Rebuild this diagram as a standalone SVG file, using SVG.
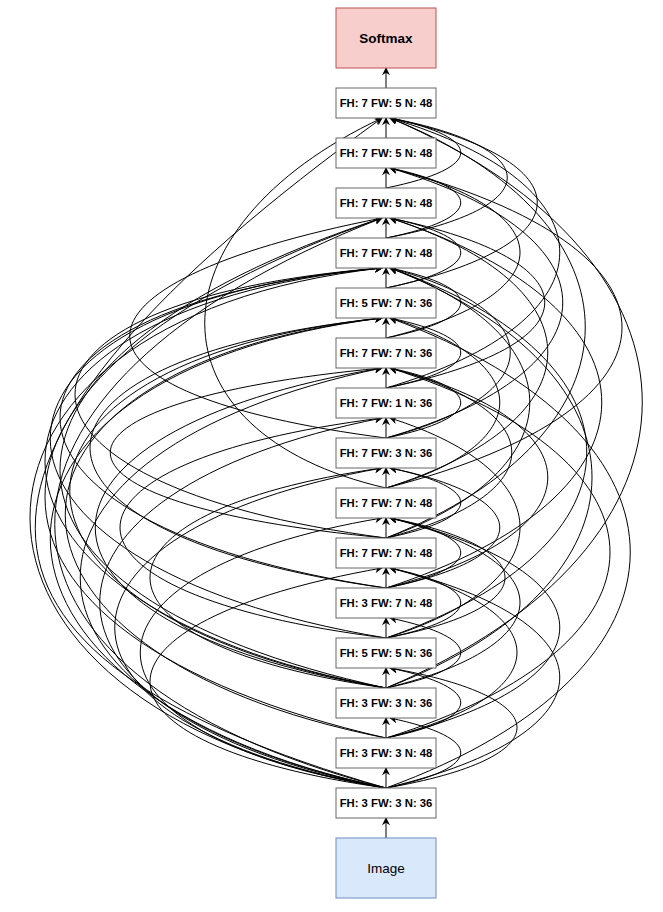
<svg xmlns="http://www.w3.org/2000/svg" width="663" height="912" viewBox="0 0 663 912">
<style>
.n rect{fill:#ffffff;stroke:#666666;stroke-width:1}
.n text{font-family:"Liberation Sans",Arial,sans-serif;font-size:11.3px;font-weight:bold;fill:#000;text-anchor:middle}
#connectors path{fill:none;stroke:#000;stroke-width:1;marker-end:url(#a)}
.big{font-family:"Liberation Sans",Arial,sans-serif;font-size:13.5px;text-anchor:middle;fill:#000}
</style>
<defs>
<marker id="a" viewBox="0 0 10 10" refX="9" refY="5" markerWidth="8" markerHeight="8" markerUnits="userSpaceOnUse" orient="auto"><path d="M0,0 L10,5 L0,10 L3,5 z" fill="#000"/></marker>
</defs>
<rect width="663" height="912" fill="#ffffff"/>
<g id="connectors">
<path d="M386,838 L386,818"/>
<path d="M386,788 L386,768"/>
<path d="M386,738 L386,718"/>
<path d="M386,688 L386,668"/>
<path d="M386,638 L386,618"/>
<path d="M386,588 L386,568"/>
<path d="M386,538 L386,518"/>
<path d="M386,488 L386,468"/>
<path d="M386,438 L386,418"/>
<path d="M386,388 L386,368"/>
<path d="M386,338 L386,318"/>
<path d="M386,288 L386,268"/>
<path d="M386,238 L386,218"/>
<path d="M386,188 L386,168"/>
<path d="M386,138 L386,118"/>
<path d="M386,88 L386,68"/>
<!-- right short loops -->
<path d="M386,188 C485,168 485,138 390,118"/>
<path d="M386,238 C485,218 485,188 390,168"/>
<path d="M386,288 C485,268 485,238 390,218"/>
<path d="M386,338 C485,318 485,288 390,268"/>
<path d="M386,388 C485,368 485,338 390,318"/>
<path d="M386,438 C485,418 485,388 390,368"/>
<path d="M386,538 C485,518 485,488 390,468"/>
<path d="M386,588 C485,568 485,538 390,518"/>
<path d="M386,638 C485,618 485,588 390,568"/>
<path d="M386,688 C485,668 485,638 390,618"/>
<path d="M386,738 C485,718 485,688 390,668"/>
<path d="M386,788 C485,768 485,738 390,718"/>
<!-- right longer -->
<path d="M386,238 C547,208 547,148 390,118"/>
<path d="M386,288 C587,245 587,161 390,118"/>
<path d="M386,338 C564,295 564,211 390,168"/>
<path d="M386,388 C597,345 597,261 390,218"/>
<path d="M386,438 C621,370 621,236 390,168"/>
<path d="M386,438 C551,395 551,311 390,268"/>
<path d="M386,488 C601,420 601,286 390,218"/>
<path d="M386,488 C700,408 700,248 390,168"/>
<path d="M386,538 C577,470 577,336 390,268"/>
<path d="M386,538 C553,495 553,411 390,368"/>
<path d="M386,588 C673,495 673,311 390,218"/>
<path d="M386,588 C601,533 601,423 390,368"/>
<path d="M386,638 C653,545 653,361 390,268"/>
<path d="M386,638 C564,583 564,473 390,418"/>
<path d="M386,688 C727,545 727,261 390,118"/>
<path d="M386,688 C660,583 660,373 390,268"/>
<path d="M386,688 C564,645 564,561 390,518"/>
<path d="M386,738 C560,695 560,611 390,568"/>
<path d="M386,738 C684,645 684,461 390,368"/>
<path d="M386,788 C560,758 560,698 390,668"/>
<path d="M386,788 C711,670 711,436 390,318"/>
<path d="M386,788 C617,733 617,623 390,568"/>
<path d="M386,588 C537,558 537,498 390,468"/>
<path d="M386,638 C544,608 544,548 390,518"/>
<path d="M386,538 C651,433 651,223 390,118"/>
<path d="M386,388 C617,320 617,186 390,118"/>
<path d="M386,738 C617,683 617,573 390,518"/>
<path d="M386,488 C537,445 537,361 390,318"/>
<!-- left -->
<path d="M386,788 C-81,654 -81,453 382,118"/>
<path d="M386,488 C145,433 145,229 382,118"/>
<path d="M386,788 C-55,674 -55,389 382,218"/>
<path d="M386,688 C-48,594 -48,359 382,218"/>
<path d="M386,738 C-68,634 -68,374 382,218"/>
<path d="M386,788 C-88,710 -88,320 382,268"/>
<path d="M386,688 C-68,604 -68,310 382,268"/>
<path d="M386,638 C-61,564 -61,305 382,268"/>
<path d="M386,588 C-48,524 -48,306 382,268"/>
<path d="M386,538 C-28,484 -28,300 382,268"/>
<path d="M386,788 C-61,694 -61,374 382,318"/>
<path d="M386,688 C-35,614 -35,362 382,318"/>
<path d="M386,588 C-8,534 -8,359 382,318"/>
<path d="M386,788 C-21,704 -21,452 382,368"/>
<path d="M386,688 C-1,624 -1,432 382,368"/>
<path d="M386,788 C5,714 5,492 382,418"/>
<path d="M386,638 C32,594 32,462 382,418"/>
<path d="M386,788 C25,724 25,532 382,468"/>
<path d="M386,688 C72,644 72,512 382,468"/>
<path d="M386,788 C59,734 59,572 382,518"/>
<path d="M386,738 C-41,654 -41,368 382,318"/>
<path d="M386,788 C72,744 72,623 382,568"/>
<path d="M386,538 C19,504 19,402 382,368"/>
<path d="M386,438 C45,394 45,284 382,218"/>
</g>
<g id="softmax"><rect x="336" y="8" width="100" height="60" fill="#f8cecc" stroke="#b85450"/><text class="big" x="386" y="43" font-weight="bold">Softmax</text></g>
<g id="n0" class="n"><rect x="336" y="88" width="100" height="30"/><text x="386" y="107">FH: 7 FW: 5 N: 48</text></g>
<g id="n1" class="n"><rect x="336" y="138" width="100" height="30"/><text x="386" y="157">FH: 7 FW: 5 N: 48</text></g>
<g id="n2" class="n"><rect x="336" y="188" width="100" height="30"/><text x="386" y="207">FH: 7 FW: 5 N: 48</text></g>
<g id="n3" class="n"><rect x="336" y="238" width="100" height="30"/><text x="386" y="257">FH: 7 FW: 7 N: 48</text></g>
<g id="n4" class="n"><rect x="336" y="288" width="100" height="30"/><text x="386" y="307">FH: 5 FW: 7 N: 36</text></g>
<g id="n5" class="n"><rect x="336" y="338" width="100" height="30"/><text x="386" y="357">FH: 7 FW: 7 N: 36</text></g>
<g id="n6" class="n"><rect x="336" y="388" width="100" height="30"/><text x="386" y="407">FH: 7 FW: 1 N: 36</text></g>
<g id="n7" class="n"><rect x="336" y="438" width="100" height="30"/><text x="386" y="457">FH: 7 FW: 3 N: 36</text></g>
<g id="n8" class="n"><rect x="336" y="488" width="100" height="30"/><text x="386" y="507">FH: 7 FW: 7 N: 48</text></g>
<g id="n9" class="n"><rect x="336" y="538" width="100" height="30"/><text x="386" y="557">FH: 7 FW: 7 N: 48</text></g>
<g id="n10" class="n"><rect x="336" y="588" width="100" height="30"/><text x="386" y="607">FH: 3 FW: 7 N: 48</text></g>
<g id="n11" class="n"><rect x="336" y="638" width="100" height="30"/><text x="386" y="657">FH: 5 FW: 5 N: 36</text></g>
<g id="n12" class="n"><rect x="336" y="688" width="100" height="30"/><text x="386" y="707">FH: 3 FW: 3 N: 36</text></g>
<g id="n13" class="n"><rect x="336" y="738" width="100" height="30"/><text x="386" y="757">FH: 3 FW: 3 N: 48</text></g>
<g id="n14" class="n"><rect x="336" y="788" width="100" height="30"/><text x="386" y="807">FH: 3 FW: 3 N: 36</text></g>
<g id="image"><rect x="336" y="838" width="100" height="60" fill="#dae8fc" stroke="#6c8ebf"/><text class="big" x="386" y="873">Image</text></g>
</svg>
